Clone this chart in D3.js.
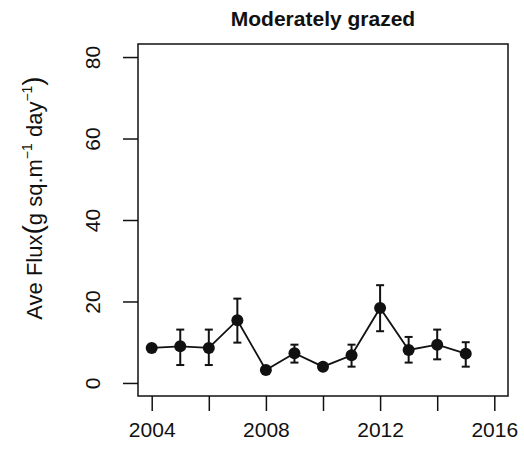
<!DOCTYPE html>
<html>
<head>
  <script src="https://d3js.org/d3.v7.min.js"></script>
  <style>
    body { margin: 0; background: #fff; }
    svg { display: block; }
    text { font-family: "Liberation Sans", Arial, sans-serif; fill: #111; }
  </style>
</head>
<body>
  <svg id="chart" width="524" height="460"></svg>
  <script>
    // Data
    const years = [2004, 2005, 2006, 2007, 2008, 2009, 2010, 2011, 2012, 2013, 2014, 2015];
    const flux  = [8.6, 9.0, 8.6, 15.4, 3.2, 7.3, 4.0, 6.8, 18.4, 8.1, 9.4, 7.2];
    const upper = [8.6, 13.1, 13.1, 20.7, 3.2, 9.4, 4.0, 9.4, 24.0, 11.3, 13.1, 10.0];
    const lower = [8.6, 4.4, 4.4, 9.9, 3.2, 5.0, 4.0, 4.0, 12.7, 5.0, 5.8, 4.0];
    const xTicks = [2004, 2006, 2008, 2010, 2012, 2014, 2016];
    const xLabels = [2004, 2008, 2012, 2016];
    const yTicks = [0, 20, 40, 60, 80];

    const rows = years.map((y, i) => ({ year: y, v: flux[i], hi: upper[i], lo: lower[i] }));

    const box = { left: 138, right: 508, top: 44, bottom: 396 };
    const svg = d3.select('#chart');

    // R-style 4% padding around xlim c(2004,2016) and ylim c(0,80)
    const x = d3.scaleLinear().domain([2004 - 0.48, 2016 + 0.48]).range([box.left, box.right]);
    const y = d3.scaleLinear().domain([-3.2, 83.2]).range([box.bottom, box.top]);

    // plot frame
    svg.append('rect')
      .attr('x', box.left).attr('y', box.top)
      .attr('width', box.right - box.left).attr('height', box.bottom - box.top)
      .attr('fill', 'none').attr('stroke', '#111').attr('stroke-width', 1.5);

    // x axis
    const xAxis = svg.append('g').attr('transform', `translate(0,${box.bottom})`)
      .call(d3.axisBottom(x).tickValues(xTicks).tickSize(15)
        .tickFormat(d => xLabels.includes(d) ? d : ''));
    xAxis.select('.domain').remove();
    xAxis.selectAll('line').attr('stroke', '#111').attr('stroke-width', 1.5);
    xAxis.selectAll('text').attr('font-size', 21).attr('y', 41).attr('dy', 0)
      .attr('font-family', '"Liberation Sans", Arial, sans-serif').attr('fill', '#111');

    // y axis
    const yAxis = svg.append('g').attr('transform', `translate(${box.left},0)`)
      .call(d3.axisLeft(y).tickValues(yTicks).tickSize(15));
    yAxis.select('.domain').remove();
    yAxis.selectAll('line').attr('stroke', '#111').attr('stroke-width', 1.5);
    yAxis.selectAll('text')
      .attr('font-size', 21).attr('x', 0).attr('dy', 0)
      .attr('text-anchor', 'middle')
      .attr('font-family', '"Liberation Sans", Arial, sans-serif').attr('fill', '#111')
      .attr('transform', 'translate(-38,0) rotate(-90)');

    // title
    svg.append('text')
      .attr('x', (box.left + box.right) / 2).attr('y', 26)
      .attr('text-anchor', 'middle').attr('font-weight', 'bold').attr('font-size', 21)
      .text('Moderately grazed');

    // y label
    const yl = svg.append('text')
      .attr('transform', `translate(42,198) rotate(-90)`)
      .attr('text-anchor', 'middle').attr('font-size', 22);
    yl.append('tspan').text('Ave Flux');
    yl.append('tspan').attr('font-size', 28).text('(');
    yl.append('tspan').text('g sq.m');
    yl.append('tspan').attr('font-size', 14).attr('dy', -10).text('\u22121');
    yl.append('tspan').attr('dy', 10).text(' day');
    yl.append('tspan').attr('font-size', 14).attr('dy', -10).text('\u22121');
    yl.append('tspan').attr('dy', 10).attr('font-size', 28).text(')');

    // error bars
    const eb = svg.append('g').attr('stroke', '#111').attr('stroke-width', 2);
    rows.filter(d => d.hi - d.lo > 0.5).forEach(d => {
      const cx = x(d.year);
      eb.append('line').attr('x1', cx).attr('x2', cx).attr('y1', y(d.lo)).attr('y2', y(d.hi));
      eb.append('line').attr('x1', cx - 4).attr('x2', cx + 4).attr('y1', y(d.lo)).attr('y2', y(d.lo));
      eb.append('line').attr('x1', cx - 4).attr('x2', cx + 4).attr('y1', y(d.hi)).attr('y2', y(d.hi));
    });

    // line
    svg.append('path')
      .datum(rows)
      .attr('fill', 'none').attr('stroke', '#111').attr('stroke-width', 1.8)
      .attr('d', d3.line().x(d => x(d.year)).y(d => y(d.v)));

    // points
    svg.selectAll('circle.pt')
      .data(rows)
      .join('circle')
      .attr('class', 'pt')
      .attr('cx', d => x(d.year)).attr('cy', d => y(d.v))
      .attr('r', 6).attr('fill', '#111');
  </script>
</body>
</html>
